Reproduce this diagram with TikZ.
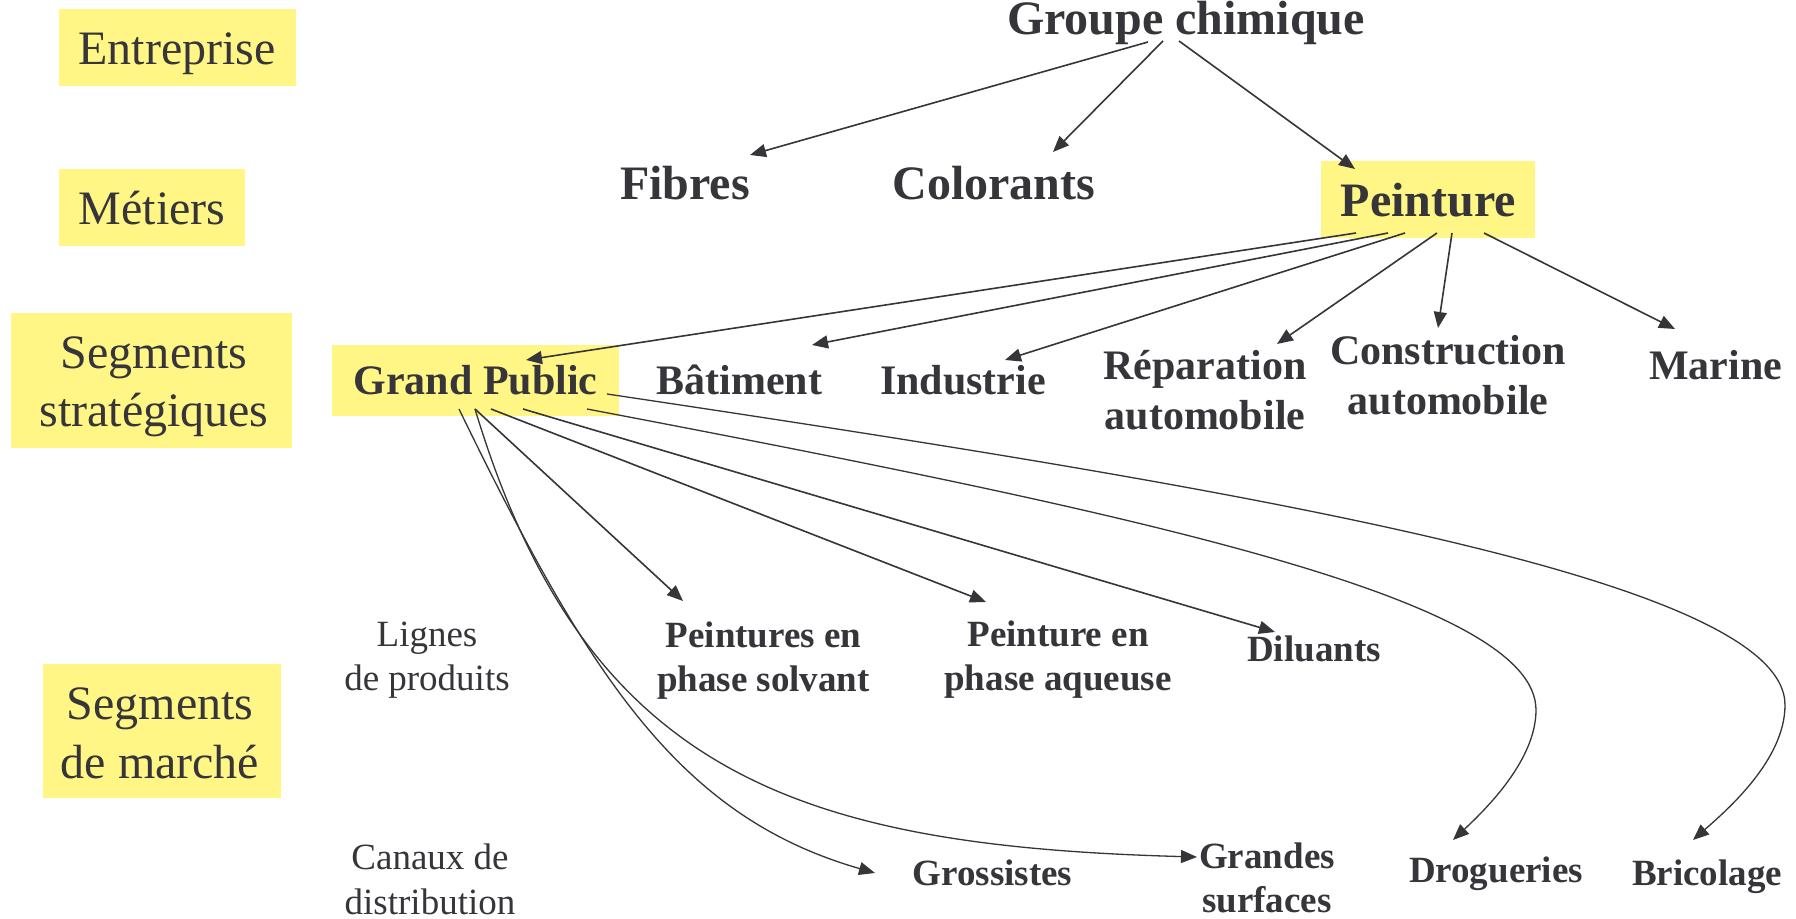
\documentclass[tikz,border=0pt]{standalone}
\usepackage{fontspec}
\setmainfont{Liberation Serif}
\usetikzlibrary{arrows.meta,calc,fit}
\definecolor{ink}{HTML}{35353A}
\definecolor{hl}{HTML}{FFF685}
\begin{document}
\begin{tikzpicture}[x=0.5pt,y=-0.5pt,line join=round,
  every node/.style={inner sep=0pt,text=ink},
  ybox/.style={fill=hl,draw=none,inner sep=0pt},
  cat/.style={anchor=base,align=center,font=\fontsize{24}{29}\selectfont},
  head/.style={anchor=base,align=center,font=\fontsize{24}{29}\selectfont\bfseries},
  seg/.style={anchor=base,align=center,font=\fontsize{21}{25.3}\selectfont\bfseries},
  prod/.style={anchor=base,align=center,font=\fontsize{18.5}{22.3}\selectfont\bfseries},
  note/.style={anchor=base,align=center,font=\fontsize{18.5}{22.3}\selectfont},
  arr/.style={draw=ink,line width=0.8pt,-{Triangle[length=8pt,width=6.5pt]}},
  carr/.style={draw=ink,line width=0.65pt,-{Triangle[length=8pt,width=6.5pt]}}]

\useasboundingbox (0,0) rectangle (1796,919);
\fill[white] (0,0) rectangle (1796,919);

% yellow boxes
\node[ybox,fit={(59,9)(296,86)}] (bEnt) {};
\node[ybox,fit={(59,169)(245,246)}] (bMet) {};
\node[ybox,fit={(11,313)(292,448)}] (bSeg) {};
\node[ybox,fit={(43,664)(281,798)}] (bMar) {};
\node[ybox,fit={(1321,161)(1535,238)}] (bPei) {};
\node[ybox,fit={(332,345)(619,416)}] (bGP) {};

% left column labels (multi-line nodes: base = last line)
\node[cat] (entreprise) at (177,65) {Entreprise};
\node[cat] (metiers) at (152,225) {Métiers};
\node[cat] (segstrat) at (154,427) {Segments\\stratégiques};
\node[cat] (segmarche) at (160,778) {Segments\\de marché};
\node[note] (lignes) at (427,691) {Lignes\\de produits};
\node[note] (canaux) at (430,914) {Canaux de\\distribution};

% tree nodes
\node[head] (groupe) at (1186,35) {Groupe chimique};
\node[head] (fibres) at (685,200) {Fibres};
\node[head] (colorants) at (994,200) {Colorants};
\node[head] (peinture) at (1428.5,217) {Peinture};

\node[seg] (gp) at (475.5,395) {Grand Public};
\node[seg] (batiment) at (739.5,395) {Bâtiment};
\node[seg] (industrie) at (963,395) {Industrie};
\node[seg] (reparation) at (1205,430) {Réparation\\automobile};
\node[seg] (construction) at (1448,415) {Construction\\automobile};
\node[seg] (marine) at (1715.5,380) {Marine};

\node[prod] (solvant) at (763.5,692) {Peintures en\\phase solvant};
\node[prod] (aqueuse) at (1058,691) {Peinture en\\phase aqueuse};
\node[prod] (diluants) at (1314,662) {Diluants};

\node[prod] (grossistes) at (992.5,885) {Grossistes};
\node[prod] (grandes) at (1267,913) {Grandes\\surfaces};
\node[prod] (drogueries) at (1496,882) {Drogueries};
\node[prod] (bricolage) at (1707,885) {Bricolage};

% Groupe -> metiers
\draw[arr] ($(groupe.base)+(-38,7)$) -- ($(fibres.base)+(65,-45)$);
\draw[arr] ($(groupe.base)+(-23,6)$) -- ($(colorants.base)+(59,-48)$);
\draw[arr] ($(groupe.base)+(-7,6)$) -- ($(peinture.base)+(-73.5,-48)$);

% Peinture -> segments
\draw[arr] ($(peinture.base)+(-72.5,16)$) -- ($(gp.base)+(50.5,-35)$);
\draw[arr] ($(peinture.base)+(-40.5,16)$) -- ($(batiment.base)+(72.5,-50)$);
\draw[arr] ($(peinture.base)+(-23.5,16)$) -- ($(industrie.base)+(42,-35)$);
\draw[arr] ($(peinture.base)+(8.5,16)$) -- ($(reparation.base)+(72,-86)$);
\draw[arr] ($(peinture.base)+(23.5,16)$) -- ($(construction.base)+(-10,-87)$);
\draw[arr] ($(peinture.base)+(55.5,16)$) -- ($(marine.base)+(-40.5,-51)$);

% Grand Public -> product lines
\draw[arr] ($(gp.base)+(-0.5,14)$) -- ($(solvant.base)+(-80.5,-91)$);
\draw[arr] ($(gp.base)+(15.5,14)$) -- ($(aqueuse.base)+(-72,-89)$);
\draw[arr] ($(gp.base)+(47.5,14)$) -- ($(diluants.base)+(-39,-30)$);

% Grand Public -> distribution channels
\draw[carr] ($(gp.base)+(-16.5,14)$) .. controls (590,679) and (680,817) .. ($(grossistes.base)+(-117.5,-12)$);
\draw[carr] ($(gp.base)+(-0.5,14)$) .. controls (585,774) and (797,846) .. ($(grandes.base)+(-70,-56)$);
\draw[carr] ($(gp.base)+(111.5,14)$) .. controls (1150,516) and (1536,600) .. (1536,710)
  .. controls (1536,760) and (1486,809) .. ($(drogueries.base)+(-43,-42)$);
\draw[carr] ($(gp.base)+(131.5,-1)$) .. controls (1250,490) and (1785,580) .. (1785,705)
  .. controls (1785,760) and (1727,810) .. ($(bricolage.base)+(-14,-45)$);
\end{tikzpicture}
\end{document}
